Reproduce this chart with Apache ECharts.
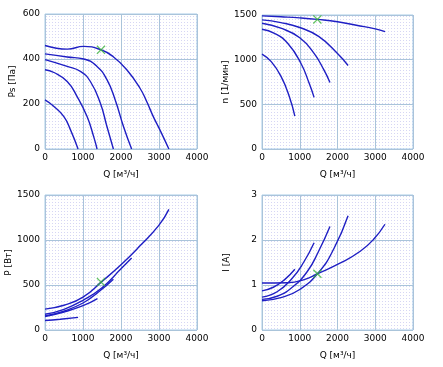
<!DOCTYPE html>
<html><head><meta charset="utf-8">
<script src="https://cdn.jsdelivr.net/npm/echarts@6/dist/echarts.min.js"></script>
<style>html,body{margin:0;padding:0;background:#fff}#c{width:443px;height:367px}</style>
</head><body><div id="c"></div>
<script>
// Ps [Па] vs Q
const psQ1 = [0, 300, 590, 1020, 1473, 1804, 2152, 2500, 2676, 2850, 3024, 3260];
const psV1 = [460, 448, 444, 456, 441, 409, 352, 270, 211, 144, 85, 0];
const psQ2 = [0, 584, 1020, 1368, 1630, 1848, 2065, 2280];
const psV2 = [423, 409, 400, 367, 308, 218, 100, 0];
const psQ3 = [0, 584, 932, 1194, 1455, 1630, 1800];
const psV3 = [397, 367, 345, 300, 204, 100, 0];
const psQ4 = [0, 235, 584, 845, 1107, 1281, 1370];
const psV4 = [352, 340, 300, 233, 144, 55, 0];
const psQ5 = [0, 235, 497, 671, 870];
const psV5 = [218, 189, 144, 85, 0];
// n [1/мин] vs Q
const nQ1 = [0, 500, 1000, 1473, 2000, 2500, 3000, 3260];
const nV1 = [1490, 1480, 1468, 1451, 1425, 1385, 1345, 1313];
const nQ2 = [0, 500, 1000, 1500, 2000, 2280];
const nV2 = [1445, 1415, 1360, 1260, 1070, 935];
const nQ3 = [0, 500, 1000, 1380, 1640, 1800];
const nV3 = [1407, 1352, 1245, 1070, 885, 745];
const nQ4 = [0, 330, 680, 1030, 1250, 1380];
const nV4 = [1340, 1295, 1183, 960, 735, 578];
const nQ5 = [0, 245, 507, 725, 870];
const nV5 = [1063, 978, 810, 586, 369];
// P [Вт] vs Q
const pQ1 = [0, 500, 1000, 1500, 2000, 2500, 3000, 3260];
const pV1 = [232, 275, 365, 540, 725, 935, 1165, 1340];
const pQ2 = [0, 500, 1000, 1500, 2000, 2280];
const pV2 = [175, 230, 330, 470, 680, 800];
const pQ3 = [0, 500, 1000, 1400, 1800];
const pV3 = [157, 210, 300, 420, 565];
const pQ4 = [0, 500, 1000, 1380];
const pV4 = [150, 200, 270, 349];
const pQ5 = [0, 400, 870];
const pV5 = [105, 120, 140];
// I [A] vs Q
const iQ1 = [0, 681, 1118, 1467, 2079, 2603, 2952, 3258];
const iV1 = [1.045, 1.05, 1.12, 1.25, 1.49, 1.75, 2.01, 2.35];
const iQ2 = [0, 500, 1000, 1500, 1900, 2280];
const iV2 = [0.65, 0.72, 0.9, 1.28, 1.8, 2.54];
const iQ3 = [0, 400, 800, 1200, 1500, 1800];
const iV3 = [0.68, 0.75, 0.95, 1.3, 1.75, 2.3];
const iQ4 = [0, 400, 800, 1100, 1380];
const iV4 = [0.73, 0.85, 1.15, 1.5, 1.94];
const iQ5 = [0, 300, 600, 870];
const iV5 = [0.87, 0.95, 1.12, 1.35];
// operating point
const opQ = [1473, 1467, 1473, 1467];
const opV = [441, 1451, 533, 1.25];

const xTicks = {min: 0, max: 4000, interval: 1000};
const yTicks = [
  {min: 0, max: 600, interval: 200},
  {min: 0, max: 1500, interval: 500},
  {min: 0, max: 1500, interval: 500},
  {min: 0, max: 3, interval: 1}
];
const yNames = ['Ps [Па]', 'n [1/мин]', 'P [Вт]', 'I [A]'];
const xName = 'Q [м³/ч]';

const pc = document.createElement('canvas');
pc.width = 3; pc.height = 3;
const g = pc.getContext('2d');
g.fillStyle = '#ffffff'; g.fillRect(0, 0, 3, 3);
g.fillStyle = '#d6d6f4'; g.fillRect(1, 1, 1, 1);

const grids = [
  {left: 45, top: 14, width: 152, height: 135},
  {left: 262, top: 15, width: 151, height: 134},
  {left: 45, top: 195, width: 152, height: 135},
  {left: 262, top: 195, width: 151, height: 135}
];
const nameGaps = [28, 31, 31, 31];
const font = 'DejaVu Sans';
const curves = [
  [[psQ1, psV1], [psQ2, psV2], [psQ3, psV3], [psQ4, psV4], [psQ5, psV5]],
  [[nQ1, nV1], [nQ2, nV2], [nQ3, nV3], [nQ4, nV4], [nQ5, nV5]],
  [[pQ1, pV1], [pQ2, pV2], [pQ3, pV3], [pQ4, pV4], [pQ5, pV5]],
  [[iQ1, iV1], [iQ2, iV2], [iQ3, iV3], [iQ4, iV4], [iQ5, iV5]]
];
const gridColor = '#aac4da';
const series = [];
curves.forEach((cs, k) => {
  cs.forEach(([qs, vs]) => {
    series.push({
      type: 'line', xAxisIndex: k, yAxisIndex: k, symbol: 'none',
      smooth: 0.5,
      lineStyle: {color: '#1f1fc4', width: 1.4},
      data: qs.map((q, i) => [q, vs[i]]), z: 3
    });
  });
  series.push({
    type: 'scatter', xAxisIndex: k, yAxisIndex: k,
    symbol: 'path://M0,1L1,0L5,4L9,0L10,1L6,5L10,9L9,10L5,6L1,10L0,9L4,5Z',
    symbolSize: 9, itemStyle: {color: '#3cb43c'},
    data: [[opQ[k], opV[k]]], z: 5
  });
});

const fmt = v => String(v);
const chart = echarts.init(document.getElementById('c'), null, {renderer: 'canvas'});
chart.setOption({
  animation: false,
  backgroundColor: '#ffffff',
  grid: grids.map(gr => Object.assign({show: true, backgroundColor: {image: pc, repeat: 'repeat'}, borderColor: '#a8cce8', borderWidth: 1}, gr)),
  xAxis: grids.map((gr, k) => Object.assign({
    type: 'value', gridIndex: k, name: xName, nameLocation: 'middle', nameGap: 21,
    nameTextStyle: {fontFamily: font, fontSize: 9, color: '#000'},
    axisLine: {show: false}, axisTick: {show: false},
    axisLabel: {fontFamily: font, fontSize: 9, color: '#000', margin: 4, formatter: fmt},
    splitLine: {show: true, lineStyle: {color: gridColor, width: 1}}
  }, xTicks)),
  yAxis: grids.map((gr, k) => Object.assign({
    type: 'value', gridIndex: k, name: yNames[k], nameLocation: 'middle', nameGap: nameGaps[k], nameRotate: 90,
    nameTextStyle: {fontFamily: font, fontSize: 9, color: '#000'},
    axisLine: {show: false}, axisTick: {show: false},
    axisLabel: {fontFamily: font, fontSize: 9, color: '#000', margin: 5, formatter: fmt},
    splitLine: {show: true, lineStyle: {color: gridColor, width: 1}}
  }, yTicks[k])),
  series: series
});
</script></body></html>
